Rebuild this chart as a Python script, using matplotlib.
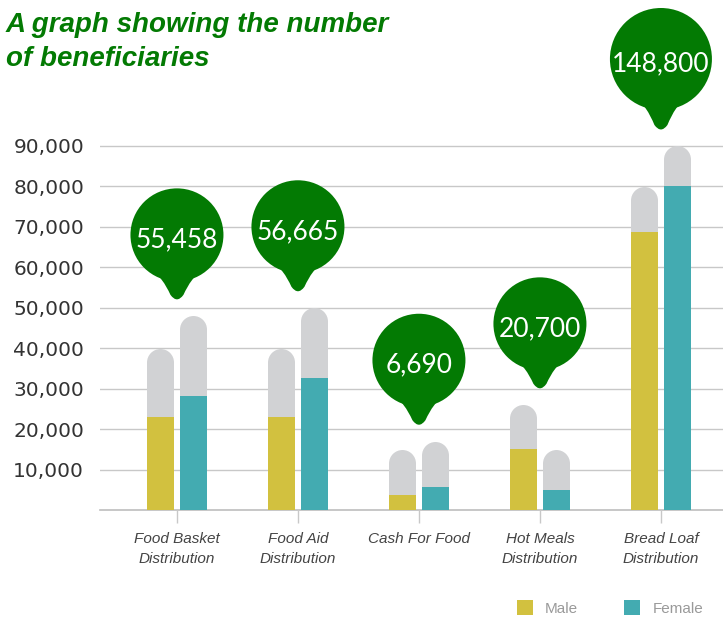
import matplotlib.pyplot as plt
import matplotlib.patches as mpatches
import matplotlib.transforms as mtransforms
from matplotlib.path import Path
import numpy as np

categories = ["Food Basket\nDistribution", "Food Aid\nDistribution", "Cash For Food",
              "Hot Meals\nDistribution", "Bread Loaf\nDistribution"]
male = [23000, 23000, 3600, 15100, 68800]
female = [28200, 32700, 5700, 4900, 80000]
male_cap = [40000, 40000, 15000, 26000, 80000]
female_cap = [48000, 50000, 17000, 15000, 90000]
totals = ["55,458", "56,665", "6,690", "20,700", "148,800"]

YELLOW = "#D2C13F"
TEAL = "#43ABB1"
GRAY = "#D1D2D4"
GREEN = "#037A03"
GRID = "#C8C8C8"

W, H, DPI = 723, 619, 100
fig = plt.figure(figsize=(W / DPI, H / DPI), dpi=DPI)
ax = fig.add_axes([100 / W, (H - 510) / H, 623 / W, 510 / H])

x = np.arange(len(categories))
bw = 0.223
off = 0.136
xmin, xmax = -0.636, 4.513
ymax = 90000 * 510 / 364
ax.set_xlim(xmin, xmax)
ax.set_ylim(0, ymax)

# pixel <-> data helpers for the rounded bar tops
px_x = 623 / (xmax - xmin)
px_y = 510 / ymax
bar_px = bw * px_x
r_data = (bar_px / 2) / px_y
msize = bar_px * 72 / DPI

for xs, vals, caps, col in [(x - off, male, male_cap, YELLOW), (x + off, female, female_cap, TEAL)]:
    caps = np.array(caps)
    ax.bar(xs, caps - r_data, bw, color=GRAY, zorder=2, linewidth=0)
    ax.plot(xs, caps - r_data, 'o', ms=msize, color=GRAY, mew=0, zorder=2, ls='none')
    ax.bar(xs, vals, bw, color=col, zorder=3, linewidth=0)

# balloons
tops = np.maximum(male_cap, female_cap)
for i, lab in enumerate(totals):
    trans = fig.dpi_scale_trans + mtransforms.ScaledTranslation(x[i], tops[i], ax.transData)
    R = 0.51 if len(lab) > 6 else 0.465
    lift = 0.14
    d = 0.67 if len(lab) <= 6 else 0.73
    cy = lift + d
    circ = mpatches.Circle((0, cy), R, color=GREEN, lw=0, transform=trans, zorder=5, clip_on=False)
    ax.add_patch(circ)
    j = cy - R * 0.72
    verts = [(-0.26, j), (-0.14, cy - R * 0.93), (-0.065, lift + 0.07),
             (0, lift - 0.02), (0.065, lift + 0.07), (0.14, cy - R * 0.93), (0.26, j),
             (-0.26, j)]
    codes = [Path.MOVETO, Path.CURVE3, Path.CURVE3, Path.CURVE3, Path.CURVE3,
             Path.CURVE3, Path.CURVE3, Path.CLOSEPOLY]
    tail = mpatches.PathPatch(Path(verts, codes), color=GREEN, lw=0, transform=trans,
                              zorder=5, clip_on=False)
    ax.add_patch(tail)
    ax.text(0, cy - 0.05, lab, transform=trans, ha='center', va='center', color='white',
            fontsize=19, family='Lato', fontweight='normal', zorder=6, clip_on=False)

ax.set_yticks(np.arange(0, 90001, 10000))
ax.set_yticklabels([""] + [f"{v:,}" for v in range(10000, 90001, 10000)])
ax.grid(axis='y', color=GRID, lw=1.0, zorder=0)
ax.axhline(0, color="#BDBDBD", lw=1.2, zorder=1, clip_on=False)
ax.tick_params(axis='y', length=0, pad=11.5, labelsize=14.5, labelcolor="#333333")
ax.set_xticks(x)
ax.set_xticklabels(categories, fontsize=11, style='italic', color="#444444",
                   family='Liberation Sans', linespacing=1.55)
ax.tick_params(axis='x', length=9, width=1, color=GRID, pad=7)
for s in ax.spines.values():
    s.set_visible(False)

fig.text(6 / W, 1 - 12 / H, "A graph showing the number\nof beneficiaries", ha='left', va='top',
         fontsize=20, fontweight='bold', style='italic', color=GREEN, family='Liberation Sans',
         linespacing=1.38)

handles = [mpatches.Patch(color=YELLOW, lw=0), mpatches.Patch(color=TEAL, lw=0)]
fig.legend(handles, ["Male", "Female"], loc='center right',
           bbox_to_anchor=(703 / W, 1 - 608 / H), ncol=2, frameon=False,
           prop={'family': 'Liberation Sans', 'size': 11}, labelcolor="#9a9a9a",
           handlelength=1.05, handleheight=1.05,
           columnspacing=3.0, handletextpad=0.8, borderpad=0, borderaxespad=0)

fig.savefig("out.png", dpi=DPI)
